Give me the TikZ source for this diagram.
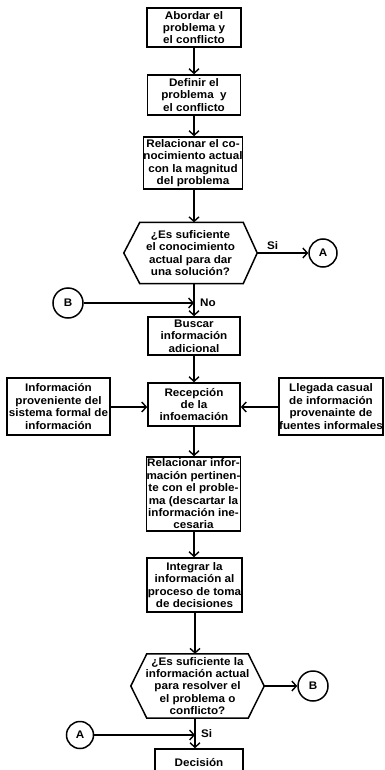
\documentclass[tikz,border=0pt]{standalone}
\usepackage{fontspec}
\setmainfont[FakeStretch=1.06]{Liberation Sans}
\usetikzlibrary{arrows.meta}
\begin{document}
\begin{tikzpicture}[x=1pt,y=-1pt,
  ln/.style={line width=1.5pt},
  ar/.style={line width=1.5pt,-{Straight Barb[length=4.5pt,width=10pt,line width=1.4pt]}},
  txt/.style={font=\fontsize{11}{12.4}\selectfont\bfseries},
  box/.style={txt,draw,line width=1.6pt,inner sep=0pt,align=center},
  hexn/.style={txt,inner sep=0pt,align=center},
  conn/.style={txt,draw,circle,line width=1.5pt,minimum size=28pt,inner sep=0pt},
  lbl/.style={txt,inner sep=0pt,anchor=west}]
\useasboundingbox[fill=white] (0,0) rectangle (384,770);
% main boxes
\node[box,minimum width=94pt,minimum height=39pt] (b1) at (194,27.5) {Abordar el\\problema y\\el conflicto};
\node[box,minimum width=93pt,minimum height=40pt] (b2) at (194,95) {Definir el\\problema\ \ y\\el conflicto};
\node[box,minimum width=96pt,minimum height=52pt] (b3) at (193,163) {Relacionar el co-\\nocimiento actual\\con la magnitud\\del problema};
\node[hexn,minimum width=133pt,minimum height=61pt] (h1) at (190.5,253) {¿Es suficiente\\el conocimiento\\actual para dar\\una solución?};
\draw[ln] (h1.west) -- ([xshift=16pt]h1.north west) -- ([xshift=-14pt]h1.north east) -- (h1.east)
  -- ([xshift=-14pt]h1.south east) -- ([xshift=16pt]h1.south west) -- cycle;
\node[box,minimum width=92pt,minimum height=38pt] (b5) at (194,336) {Buscar\\información\\adicional};
\node[box,minimum width=92pt,minimum height=43pt] (b6) at (194,404.5) {Recepción\\de la\\infoemación};
\node[box,minimum width=103pt,minimum height=57pt] (b7) at (58.5,406.5) {Información\\proveniente del\\sistema formal de\\información};
\node[box,minimum width=104pt,minimum height=57pt] (b8) at (331,406.5) {Llegada casual\\de información\\provenainte de\\fuentes informales};
\node[box,minimum width=93pt,minimum height=74pt] (b9) at (193.5,494) {Relacionar infor-\\mación pertinen-\\te con el proble-\\ma (descartar la\\información ine-\\cesaria};
\node[box,minimum width=95pt,minimum height=54pt] (b10) at (194.5,585) {Integrar la\\información al\\proceso de toma\\de decisiones};
\node[hexn,minimum width=133pt,minimum height=64pt] (h2) at (197.5,686) {¿Es suficiente la\\información actual\\para resolver el\\el problema o\\conflicto?};
\draw[ln] (h2.west) -- ([xshift=16pt]h2.north west) -- ([xshift=-16pt]h2.north east) -- (h2.east)
  -- ([xshift=-16pt]h2.south east) -- ([xshift=16pt]h2.south west) -- cycle;
\node[box,minimum width=88pt,minimum height=28pt] (b12) at (199,763) {Decisión};
% connectors (circles)
\node[conn] (A1) at (323,253) {A};
\node[conn,minimum size=30pt] (B1) at (68,303) {B};
\node[conn,minimum size=30pt] (B2) at (313,686) {B};
\node[conn,minimum size=27pt] (A2) at (80,735) {A};
% junctions
\coordinate (j1) at (194,303);
\coordinate (j2) at (195,735);
% arrows
\draw[ar] (b1) -- (b2);
\draw[ar] (b2) -- (b2.south |- b3.north);
\draw[ar] (b2.south |- b3.south) -- (b2.south |- h1.north);
\draw[ar] (h1.east) -- (A1);
\node[lbl] (si1) at (267,246) {Si};
\draw[ln] (j1 |- h1.south) -- (j1);
\draw[ar] (B1) -- (j1);
\draw[ar] (j1) -- (j1 |- b5.north);
\node[lbl] (no1) at (200,303) {No};
\draw[ar] (b5) -- (b6);
\draw[ar] (b7.east |- 0,407) -- (b6.west |- 0,407);
\draw[ar] (b8.west |- 0,407) -- (b6.east |- 0,407);
\draw[ar] (b6) -- (b6.south |- b9.north);
\draw[ar] (b6.south |- b9.south) -- (b6.south |- b10.north);
\draw[ar] (j2 |- b10.south) -- (j2 |- h2.north);
\draw[ar] (h2.east) -- (B2);
\draw[ln] (j2 |- h2.south) -- (j2);
\draw[ar] (A2) -- (j2);
\draw[ar] (j2) -- (j2 |- b12.north);
\node[lbl] (si2) at (201,734) {Si};
\end{tikzpicture}
\end{document}
